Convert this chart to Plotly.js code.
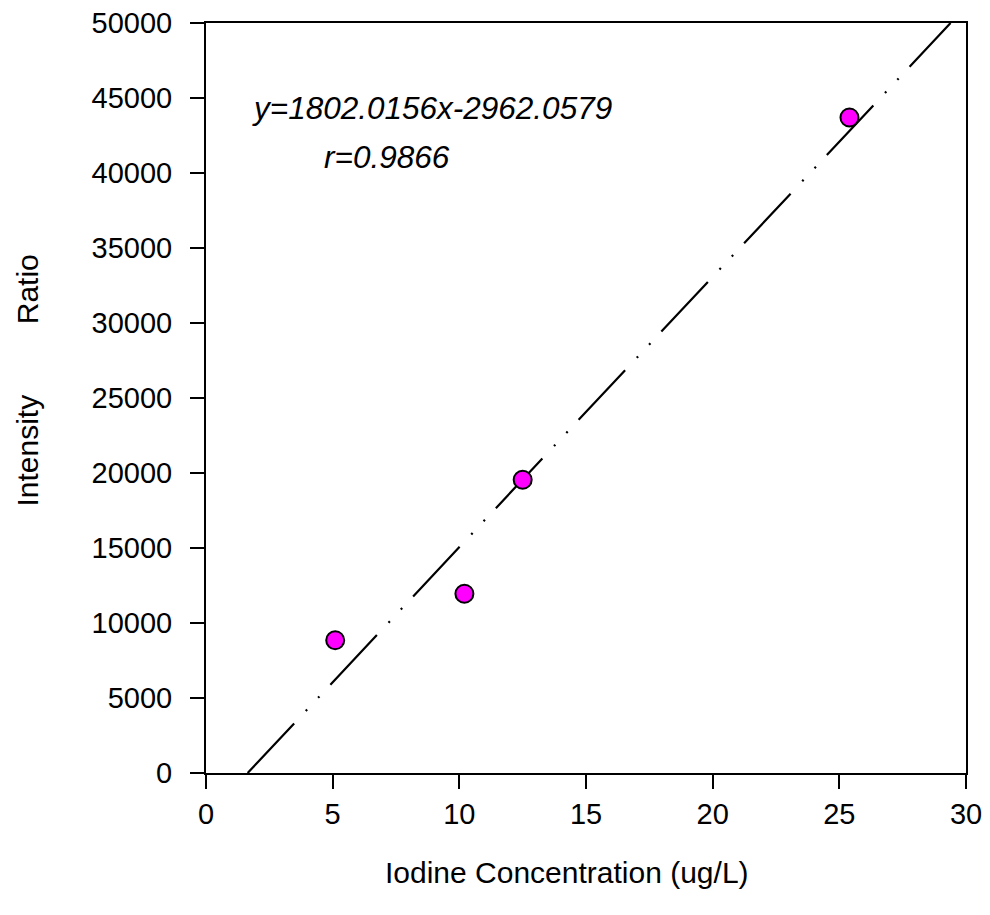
<!DOCTYPE html>
<html>
<head>
<meta charset="utf-8">
<script src="https://cdn.plot.ly/plotly-3.0.1.min.js"></script>
<style>html,body{margin:0;padding:0;background:#fff;}#chart{width:990px;height:915px;}</style>
</head>
<body>
<div id="chart"></div>
<script>
// Data
const concentration = [5.1, 10.2, 12.5, 25.4];
const intensityRatio = [8850, 11950, 19550, 43700];
const fitSlope = 1802.0156;
const fitIntercept = -2962.0579;
const fitR = 0.9866;
const xTicks = [0, 5, 10, 15, 20, 25, 30];
const yTicks = [0, 5000, 10000, 15000, 20000, 25000, 30000, 35000, 40000, 45000, 50000];
const xRange = [0, 30];
const yRange = [0, 50000];
const xTitle = 'Iodine Concentration (ug/L)';
const yTitleParts = ['Intensity', 'Ratio'];

// regression line across the visible y range
const fitX = [(yRange[0] - fitIntercept) / fitSlope, (yRange[1] - fitIntercept) / fitSlope];
const fitY = fitX.map(x => fitSlope * x + fitIntercept);

const FONT = "Liberation Sans, Arial, sans-serif";

const traces = [
  {
    x: fitX, y: fitY, mode: 'lines', type: 'scatter',
    line: {color: '#000', width: 2.2, dash: '68px,17px,2px,16px,2px,16px'},
    hoverinfo: 'skip', showlegend: false
  },
  {
    x: concentration, y: intensityRatio, mode: 'markers', type: 'scatter',
    marker: {symbol: 'circle', size: 18, color: '#FF00FF', line: {color: '#000', width: 2}},
    showlegend: false
  }
];

const axisCommon = {
  showgrid: false, zeroline: false, showline: true, linecolor: '#000', linewidth: 2,
  mirror: true, ticks: 'outside', ticklen: 14, tickwidth: 2, tickcolor: '#000',
  tickfont: {family: FONT, size: 29, color: '#000'}
};

const layout = {
  width: 990, height: 915,
  margin: {l: 206, r: 24, t: 23, b: 142},
  paper_bgcolor: '#fff', plot_bgcolor: '#fff',
  font: {family: FONT, color: '#000'},
  xaxis: Object.assign({}, axisCommon, {
    range: xRange, tickvals: xTicks, ticktext: xTicks.map(String)
  }),
  yaxis: Object.assign({}, axisCommon, {
    range: yRange, tickvals: yTicks, ticktext: yTicks.map(String), ticklabelstandoff: 12
  }),
  annotations: [
    {xref: 'paper', yref: 'paper', x: 0.058, y: 0.887, xanchor: 'left', yanchor: 'middle', showarrow: false,
     text: '<i>y=' + fitSlope.toFixed(4) + 'x' + fitIntercept.toFixed(4) + '</i>', font: {family: FONT, size: 31.5, color: '#000'}},
    {xref: 'paper', yref: 'paper', x: 0.1526, y: 0.821, xanchor: 'left', yanchor: 'middle', showarrow: false,
     text: '<i>r=' + fitR.toFixed(4) + '</i>', font: {family: FONT, size: 31.5, color: '#000'}},
    {xref: 'paper', yref: 'paper', x: 0.475, y: -0.132, xanchor: 'center', yanchor: 'middle', showarrow: false,
     text: xTitle, font: {family: FONT, size: 30, color: '#000'}},
    {xref: 'paper', yref: 'paper', x: -0.2355, y: 0.43, xanchor: 'center', yanchor: 'middle', showarrow: false, textangle: -90,
     text: yTitleParts[0], font: {family: FONT, size: 30, color: '#000'}},
    {xref: 'paper', yref: 'paper', x: -0.2355, y: 0.645, xanchor: 'center', yanchor: 'middle', showarrow: false, textangle: -90,
     text: yTitleParts[1], font: {family: FONT, size: 30, color: '#000'}}
  ]
};

Plotly.newPlot('chart', traces, layout, {displayModeBar: false, staticPlot: true});
</script>
</body>
</html>
